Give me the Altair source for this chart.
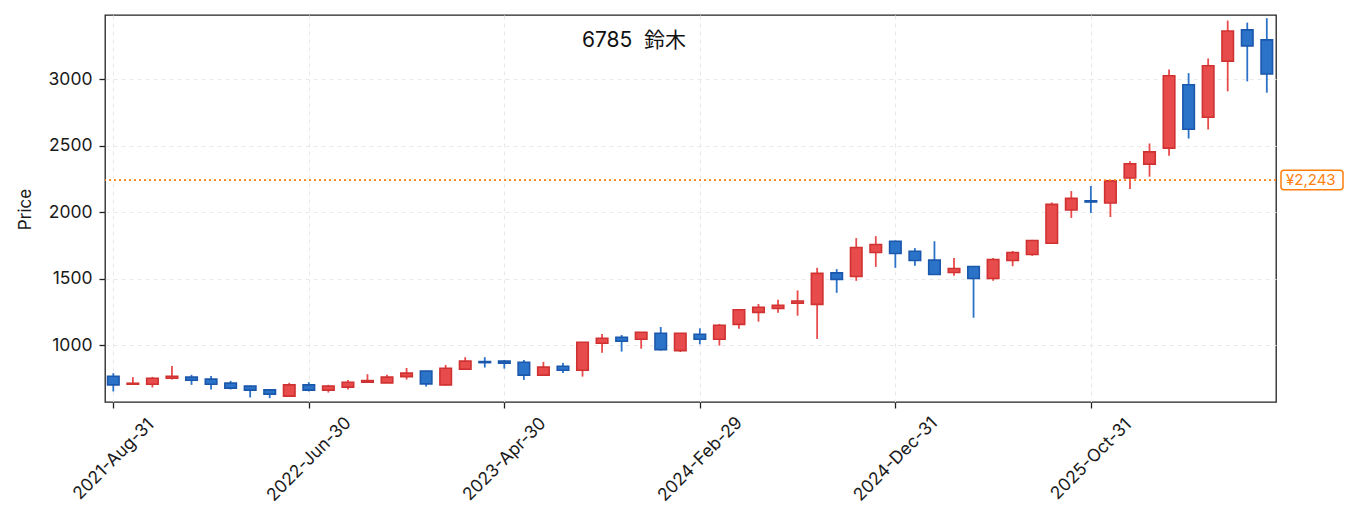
import altair as alt
import pandas as pd

# ---- data (monthly candles) ----
opens = [768, 708, 708, 753, 761, 746, 716, 693, 665, 618,
         703, 663, 686, 723, 718, 765, 806, 703, 821, 878,
         881, 873, 776, 843, 813, 1016, 1061, 1046, 1091, 960,
         1083, 1046, 1158, 1248, 1278, 1316, 1308, 1545, 1518, 1698,
         1783, 1708, 1641, 1548, 1593, 1503, 1638, 1683, 1768, 2018,
         2087, 2070, 2258, 2363, 2483, 2960, 2715, 3137, 3372, 3297]
highs = [791, 761, 763, 845, 778, 770, 733, 696, 668, 718,
         723, 703, 740, 783, 778, 830, 808, 853, 911, 911,
         890, 890, 876, 868, 1023, 1086, 1078, 1098, 1138, 1093,
         1128, 1161, 1271, 1311, 1343, 1413, 1583, 1573, 1806, 1821,
         1788, 1731, 1783, 1656, 1593, 1656, 1710, 1793, 2075, 2160,
         2198, 2240, 2385, 2518, 3075, 3047, 3157, 3442, 3427, 3460]
lows = [653, 708, 683, 743, 703, 668, 668, 608, 603, 618,
        653, 645, 668, 723, 718, 743, 690, 698, 821, 833,
        825, 740, 776, 793, 765, 945, 953, 975, 960, 950,
        1008, 998, 1125, 1178, 1245, 1223, 1048, 1395, 1485, 1590,
        1583, 1598, 1533, 1523, 1208, 1485, 1595, 1673, 1768, 1958,
        1995, 1965, 2175, 2268, 2425, 2555, 2623, 2910, 2985, 2900]
closes = [703, 715, 753, 768, 738, 708, 678, 663, 633, 703,
          663, 693, 723, 735, 761, 791, 710, 828, 881, 870,
          866, 776, 836, 813, 1023, 1053, 1031, 1098, 968, 1091,
          1046, 1151, 1268, 1286, 1301, 1333, 1541, 1496, 1736, 1758,
          1691, 1638, 1533, 1578, 1503, 1646, 1698, 1788, 2060, 2105,
          2078, 2237, 2365, 2455, 3027, 2625, 3102, 3364, 3252, 3040]

tick_index = [0, 10, 20, 30, 40, 50]
tick_labels = ["2021-Aug-31", "2022-Jun-30", "2023-Apr-30",
               "2024-Feb-29", "2024-Dec-31", "2025-Oct-31"]
y_ticks = [1000, 1500, 2000, 2500, 3000]
ref_price = [2243]
title_text = "6785\u00a0\u00a0鈴木"

UP_FILL, UP_STROKE = "#e84b4b", "#d03232"
DN_FILL, DN_STROKE = "#2b73c9", "#1b58ab"
ORANGE = "#ff7f0e"
FONT = "Inter, Noto Sans CJK JP"

df = pd.DataFrame({
    "i": list(range(len(opens))),
    "open": opens, "high": highs, "low": lows, "close": closes,
})
df["dir"] = ["up" if c >= o else "down" for o, c in zip(opens, closes)]

label_expr = "[" + ",".join(f"'{t}'" for t in tick_labels) + "][round(datum.value/10)]"

xscale = alt.Scale(domain=[-0.425, 59.47], nice=False, zero=False, padding=0)
yscale = alt.Scale(domain=[574, 3484], nice=False, zero=False, padding=0)

xaxis = alt.Axis(values=tick_index, labelExpr=label_expr, title=None,
                 labelAngle=-45, labelAlign="center", labelBaseline="middle",
                 labelPadding=51, labelFontSize=17.5, tickSize=6,
                 grid=True, labelFlush=False, labelOverlap=False)
yaxis = alt.Axis(values=y_ticks, format="d", title="Price", labelFontSize=17.5, tickSize=6,
                 labelPadding=7, grid=True, titleFontSize=17, titleFontWeight="normal",
                 titleAngle=-90, titleX=-80, titleY=194, titleAlign="center",
                 titleBaseline="middle")

fill_scale = alt.Scale(domain=["up", "down"], range=[UP_FILL, DN_FILL])
stroke_scale = alt.Scale(domain=["up", "down"], range=[UP_STROKE, DN_STROKE])

base = alt.Chart(df)

wicks = base.mark_rule(strokeWidth=1.8).encode(
    x=alt.X("i:Q", scale=xscale, axis=xaxis),
    y=alt.Y("low:Q", scale=yscale, axis=yaxis),
    y2="high:Q",
    color=alt.Color("dir:N", scale=fill_scale, legend=None),
)

bodies = base.mark_bar(size=11.5, strokeWidth=1.6).encode(
    x=alt.X("i:Q", scale=xscale),
    y=alt.Y("open:Q", scale=yscale),
    y2="close:Q",
    fill=alt.Fill("dir:N", scale=fill_scale, legend=None),
    stroke=alt.Stroke("dir:N", scale=stroke_scale, legend=None),
)

ref_df = pd.DataFrame({"p": ref_price, "lab": [f"¥{p:,}" for p in ref_price]})
ref_line = alt.Chart(ref_df).mark_rule(color=ORANGE, strokeDash=[2, 3], strokeWidth=1.7).encode(
    y=alt.Y("p:Q", scale=yscale)
)
ref_box = alt.Chart(ref_df).transform_calculate(
    lo="datum.p - 73", hi="datum.p + 73"
).mark_rect(fill="white", stroke=ORANGE, strokeWidth=1.5, cornerRadius=3, clip=False).encode(
    x=alt.value(1176), x2=alt.value(1238),
    y=alt.Y("lo:Q", scale=yscale), y2="hi:Q",
)
ref_text = alt.Chart(ref_df).mark_text(
    color=ORANGE, fontSize=15, align="left", baseline="middle", font=FONT, clip=False
).encode(
    x=alt.value(1181), y=alt.Y("p:Q", scale=yscale), text="lab:N"
)

title = alt.Chart(pd.DataFrame({"t": [title_text]})).mark_text(
    fontSize=21, font=FONT, color="#111", align="center", baseline="middle"
).encode(x=alt.value(529), y=alt.value(26), text="t:N")

chart = alt.layer(wicks, bodies, ref_line, ref_box, ref_text, title).properties(
    width=1171, height=387,
    background="white",
    autosize=alt.AutoSizeParams(type="none"),
    padding={"left": 97, "top": 7, "right": 71, "bottom": 122},
).configure_view(
    stroke="#222", strokeWidth=1.3
).configure_axis(
    domain=False, gridColor="#e8e8e8", gridDash=[4, 4], gridWidth=1,
    tickColor="#222", tickWidth=1.3, labelColor="#1a1a1a", titleColor="#1a1a1a",
    labelFont=FONT, titleFont=FONT,
)

chart.save("out.html", embed_options={"renderer": "svg", "actions": False})
